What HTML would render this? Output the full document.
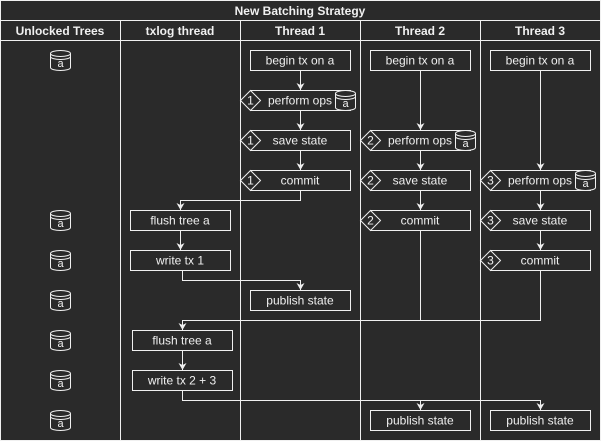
<!DOCTYPE html>
<html><head><style>
html,body{margin:0;padding:0;background:#2a2a2a;}
svg{display:block;}
text{font-family:"Liberation Sans",sans-serif;fill:#f0f0f0;font-size:12px;text-anchor:middle;dominant-baseline:central;}
.b{font-weight:bold;}
</style></head><body>
<svg width="601" height="441" viewBox="0 0 601 441" xmlns="http://www.w3.org/2000/svg">
<defs>
<g id="cyl" fill="#2a2a2a" stroke="#f0f0f0" stroke-width="1">
<path d="M0,3 A10,3 0 0 1 20,3 L20,17 A10,3 0 0 1 0,17 Z"/>
<path d="M0,3 A10,3 0 0 0 20,3" fill="none"/>
<path d="M0,6 A10,3 0 0 0 20,6" fill="none"/>
</g>
<marker id="ar" markerWidth="8" markerHeight="8" refX="4" refY="7" orient="0" markerUnits="userSpaceOnUse">
<path d="M0,0 L4,2 L8,0 L4,7 Z" fill="#f0f0f0"/>
</marker>
</defs>
<rect x="0.5" y="0.5" width="600" height="440" fill="#2a2a2a" stroke="#f0f0f0"/>
<line x1="0" y1="20.5" x2="601" y2="20.5" stroke="#f0f0f0"/>
<line x1="0" y1="40.5" x2="601" y2="40.5" stroke="#f0f0f0"/>
<g stroke="#f0f0f0">
<line x1="120.5" y1="20" x2="120.5" y2="441"/>
<line x1="240.5" y1="20" x2="240.5" y2="441"/>
<line x1="360.5" y1="20" x2="360.5" y2="441"/>
<line x1="480.5" y1="20" x2="480.5" y2="441"/>
</g>
<text x="300" y="11" class="b">New Batching Strategy</text>
<text x="60" y="31" class="b">Unlocked Trees</text>
<text x="180" y="31" class="b">txlog thread</text>
<text x="300" y="31" class="b">Thread 1</text>
<text x="420" y="31" class="b">Thread 2</text>
<text x="540" y="31" class="b">Thread 3</text>

<g>
<use href="#cyl" x="50.5" y="50.5"/><text x="60.5" y="64" style="font-size:11px">a</text>
<use href="#cyl" x="50.5" y="210.5"/><text x="60.5" y="224" style="font-size:11px">a</text>
<use href="#cyl" x="50.5" y="250.5"/><text x="60.5" y="264" style="font-size:11px">a</text>
<use href="#cyl" x="50.5" y="290.5"/><text x="60.5" y="304" style="font-size:11px">a</text>
<use href="#cyl" x="50.5" y="330.5"/><text x="60.5" y="344" style="font-size:11px">a</text>
<use href="#cyl" x="50.5" y="370.5"/><text x="60.5" y="384" style="font-size:11px">a</text>
<use href="#cyl" x="50.5" y="410.5"/><text x="60.5" y="424" style="font-size:11px">a</text>
</g>

<g stroke="#f0f0f0" fill="none">
<path d="M300.5,70 V90" marker-end="url(#ar)"/>
<path d="M300.5,110 V130" marker-end="url(#ar)"/>
<path d="M300.5,150 V170" marker-end="url(#ar)"/>
<path d="M300.5,190 V200.5 H180.5 V210" marker-end="url(#ar)"/>
<path d="M180.5,230 V250" marker-end="url(#ar)"/>
<path d="M182.5,270 V280.5 H300.5 V290" marker-end="url(#ar)"/>
<path d="M420.5,70 V130" marker-end="url(#ar)"/>
<path d="M420.5,150 V170" marker-end="url(#ar)"/>
<path d="M420.5,190 V210" marker-end="url(#ar)"/>
<path d="M420.5,230 V320.5"/>
<path d="M540.5,70 V170" marker-end="url(#ar)"/>
<path d="M540.5,190 V210" marker-end="url(#ar)"/>
<path d="M540.5,230 V250" marker-end="url(#ar)"/>
<path d="M540.5,270 V320.5 H182.5 V330" marker-end="url(#ar)"/>
<path d="M182.5,350 V370" marker-end="url(#ar)"/>
<path d="M182.5,390 V400.5 H540.5 V410" marker-end="url(#ar)"/>
<path d="M420.5,400.5 V410" marker-end="url(#ar)"/>
</g>

<g fill="#2a2a2a" stroke="#f0f0f0">
<rect x="250.5" y="50.5" width="100" height="20"/>
<rect x="250.5" y="90.5" width="100" height="20"/>
<rect x="250.5" y="130.5" width="100" height="20"/>
<rect x="250.5" y="170.5" width="100" height="20"/>
<rect x="370.5" y="50.5" width="100" height="20"/>
<rect x="370.5" y="130.5" width="100" height="20"/>
<rect x="370.5" y="170.5" width="100" height="20"/>
<rect x="370.5" y="210.5" width="100" height="20"/>
<rect x="490.5" y="50.5" width="100" height="20"/>
<rect x="490.5" y="170.5" width="100" height="20"/>
<rect x="490.5" y="210.5" width="100" height="20"/>
<rect x="490.5" y="250.5" width="100" height="20"/>
<rect x="130.5" y="210.5" width="100" height="20"/>
<rect x="130.5" y="250.5" width="100" height="20"/>
<rect x="250.5" y="290.5" width="100" height="20"/>
<rect x="132.5" y="330.5" width="100" height="20"/>
<rect x="132.5" y="370.5" width="100" height="20"/>
<rect x="370.5" y="410.5" width="100" height="20"/>
<rect x="490.5" y="410.5" width="100" height="20"/>
<path d="M240.5,100.5 L250.5,90.5 L260.5,100.5 L250.5,110.5 Z"/>
<path d="M240.5,140.5 L250.5,130.5 L260.5,140.5 L250.5,150.5 Z"/>
<path d="M240.5,180.5 L250.5,170.5 L260.5,180.5 L250.5,190.5 Z"/>
<path d="M360.5,140.5 L370.5,130.5 L380.5,140.5 L370.5,150.5 Z"/>
<path d="M360.5,180.5 L370.5,170.5 L380.5,180.5 L370.5,190.5 Z"/>
<path d="M360.5,220.5 L370.5,210.5 L380.5,220.5 L370.5,230.5 Z"/>
<path d="M480.5,180.5 L490.5,170.5 L500.5,180.5 L490.5,190.5 Z"/>
<path d="M480.5,220.5 L490.5,210.5 L500.5,220.5 L490.5,230.5 Z"/>
<path d="M480.5,260.5 L490.5,250.5 L500.5,260.5 L490.5,270.5 Z"/>
</g>
<use href="#cyl" x="335.5" y="90.5"/><text x="345.5" y="104" style="font-size:11px">a</text>
<use href="#cyl" x="455.5" y="130.5"/><text x="465.5" y="144" style="font-size:11px">a</text>
<use href="#cyl" x="575.5" y="170.5"/><text x="585.5" y="184" style="font-size:11px">a</text>

<text x="250.5" y="100.5">1</text><text x="250.5" y="140.5">1</text><text x="250.5" y="180.5">1</text>
<text x="370.5" y="140.5">2</text><text x="370.5" y="180.5">2</text><text x="370.5" y="220.5">2</text>
<text x="490.5" y="180.5">3</text><text x="490.5" y="220.5">3</text><text x="490.5" y="260.5">3</text>

<text x="300" y="60.5">begin tx on a</text>
<text x="300" y="100.5">perform ops</text>
<text x="300" y="140.5">save state</text>
<text x="300" y="180.5">commit</text>
<text x="420" y="60.5">begin tx on a</text>
<text x="420" y="140.5">perform ops</text>
<text x="420" y="180.5">save state</text>
<text x="420" y="220.5">commit</text>
<text x="540" y="60.5">begin tx on a</text>
<text x="540" y="180.5">perform ops</text>
<text x="540" y="220.5">save state</text>
<text x="540" y="260.5">commit</text>
<text x="180" y="220.5">flush tree a</text>
<text x="180" y="260.5">write tx 1</text>
<text x="300" y="300.5">publish state</text>
<text x="182" y="340.5">flush tree a</text>
<text x="182" y="380.5">write tx 2 + 3</text>
<text x="420" y="420.5">publish state</text>
<text x="540" y="420.5">publish state</text>
</svg>
</body></html>
